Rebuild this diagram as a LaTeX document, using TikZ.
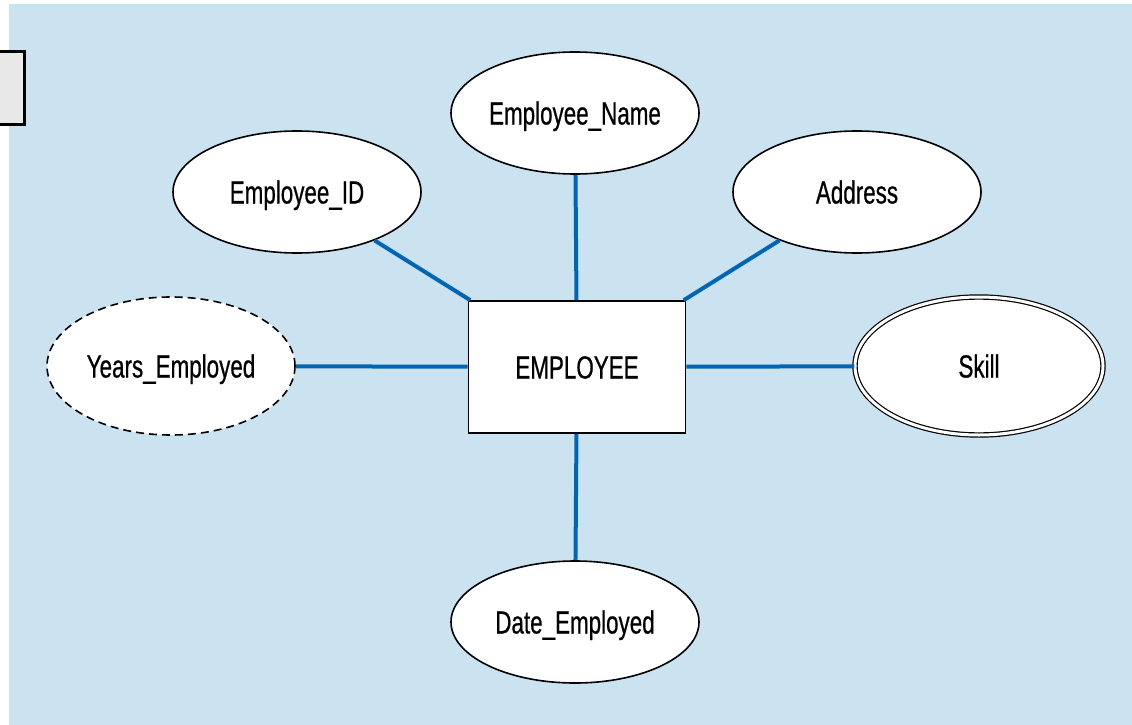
\documentclass[tikz,border=0pt]{standalone}
\usepackage{fontspec}
\setmainfont[FakeStretch=0.7,FakeBold=0.6]{Liberation Sans}
\usetikzlibrary{shapes.geometric}
\definecolor{bgblue}{RGB}{203,226,240}
\definecolor{linkblue}{RGB}{0,102,180}
\definecolor{boxgray}{RGB}{232,232,232}
\begin{document}
\begin{tikzpicture}[x=1pt,y=-1pt,
  label text/.style={font=\fontsize{32}{36}\selectfont,text height=23pt,text depth=0pt},
  attr/.style={ellipse,draw=black,line width=1.6pt,fill=white,minimum width=248pt,minimum height=122pt,inner sep=0pt,label text},
  derived/.style={attr,dashed,dash pattern=on 8pt off 5pt,minimum height=138pt},
  multi/.style={attr,double=white,double distance=3pt,line width=1.2pt,minimum height=138pt},
  entity/.style={rectangle,draw=black,line width=1.6pt,fill=white,minimum width=217pt,minimum height=132pt,inner sep=0pt,label text},
  link/.style={draw=linkblue,line width=4pt}]
\useasboundingbox (0,0) rectangle (1132,725);
\fill[bgblue] (9,4) rectangle (1132,725);
\draw[fill=boxgray,line width=3pt] (-10,52) rectangle (24,124);
\node[entity] (emp) at (577,367) {EMPLOYEE};
\node[attr] (name) at (575,113) {Employee\_Name};
\node[attr] (id) at (297,192) {Employee\_ID};
\node[attr] (addr) at (857,192) {Address};
\node[derived] (years) at (171,366) {Years\_Employed};
\node[multi] (skill) at (979,366) {Skill};
\node[attr] (date) at (575,622) {Date\_Employed};
\draw[link] (name) -- (emp);
\draw[link] (id) -- (emp);
\draw[link] (addr) -- (emp);
\draw[link] (years) -- (emp);
\draw[link] (skill) -- (emp);
\draw[link] (date) -- (emp);
\end{tikzpicture}
\end{document}
